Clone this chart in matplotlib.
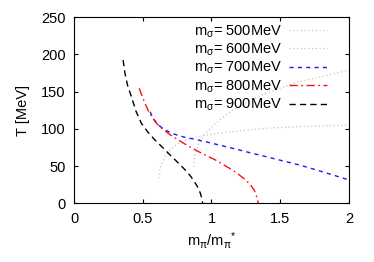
import matplotlib
matplotlib.use("Agg")
import matplotlib.pyplot as plt
import numpy as np

plt.rcParams['font.family'] = ['Liberation Sans', 'DejaVu Sans']
plt.rcParams['mathtext.fontset'] = 'custom'
plt.rcParams['mathtext.rm'] = 'Liberation Sans'
plt.rcParams['mathtext.it'] = 'Liberation Sans'
plt.rcParams['mathtext.default'] = 'regular'

# m_sigma = 500 MeV (grey dotted, saturating ~105)
x500 = [0.614, 0.63, 0.663, 0.70, 0.76, 0.83, 0.907, 1.0, 1.152, 1.3, 1.396, 1.6, 1.8, 2.0]
y500 = [33.6, 50.0, 62.7, 72.0, 80.6, 86.0, 89.6, 93.0, 96.3, 99.0, 100.8, 102.8, 104.0, 105.0]
# m_sigma = 600 MeV (grey dotted, rising to ~179)
x600 = [0.870, 0.88, 0.907, 0.95, 1.005, 1.08, 1.152, 1.27, 1.396, 1.52, 1.64, 1.82, 2.0]
y600 = [49.0, 65.0, 80.6, 93.0, 103.0, 115.0, 125.0, 137.0, 148.0, 156.0, 163.5, 171.0, 179.0]
# m_sigma = 700 MeV (blue dashed)
x700 = [0.553, 0.58, 0.614, 0.66, 0.711, 0.80, 0.907, 1.03, 1.152, 1.27, 1.396, 1.52, 1.64, 1.76, 1.885, 2.0]
y700 = [123.0, 113.0, 105.0, 99.0, 94.0, 89.0, 85.0, 79.5, 74.0, 68.5, 62.7, 57.0, 51.5, 45.0, 38.0, 31.4]
# m_sigma = 800 MeV (red dash-dot)
x800 = [0.474, 0.495, 0.516, 0.54, 0.565, 0.60, 0.638, 0.70, 0.760, 0.83, 0.907, 0.97, 1.029, 1.09, 1.152, 1.20, 1.249, 1.285, 1.310, 1.325, 1.335, 1.340]
y800 = [154.6, 144.0, 134.4, 124.5, 116.5, 107.5, 100.8, 92.0, 85.0, 77.0, 69.4, 63.5, 58.2, 51.5, 44.8, 38.5, 31.4, 24.5, 17.9, 11.0, 4.5, 0.0]
# m_sigma = 900 MeV (black dashed)
x900 = [0.357, 0.37, 0.39, 0.418, 0.45, 0.49, 0.54, 0.589, 0.65, 0.711, 0.76, 0.809, 0.85, 0.883, 0.905, 0.919, 0.930, 0.936]
y900 = [192.6, 175.0, 158.0, 143.0, 124.0, 107.5, 95.0, 85.0, 74.0, 62.7, 54.0, 44.8, 36.0, 26.9, 20.0, 13.4, 6.5, 0.0]

labels = [r'm$_{σ}$= 500MeV', r'm$_{σ}$= 600MeV', r'm$_{σ}$= 700MeV',
          r'm$_{σ}$= 800MeV', r'm$_{σ}$= 900MeV']
xticks = [0, 0.5, 1, 1.5, 2]
xticklabels = ['0', '0.5', '1', '1.5', '2']
yticks = [0, 50, 100, 150, 200, 250]

fs = 10.5

fig = plt.figure(figsize=(3.74, 2.62), dpi=100)
ax = fig.add_axes([0.198, 0.224, 0.735, 0.71])

grey = '#c4c4c4'
ax.plot(x500, y500, color=grey, lw=0.9, linestyle=(0, (1, 2)), label=labels[0])
ax.plot(x600, y600, color=grey, lw=0.9, linestyle=(0, (1, 2)), label=labels[1])
ax.plot(x700, y700, color='#1a1aff', lw=1.0, linestyle=(0, (3, 3)), label=labels[2])
ax.plot(x800, y800, color='#ff1010', lw=1.0, linestyle=(0, (6, 2.5, 1.2, 2.5)), label=labels[3])
ax.plot(x900, y900, color='black', lw=1.0, linestyle=(0, (4.5, 3)), label=labels[4])

ax.set_xlim(0, 2)
ax.set_ylim(0, 250)
ax.set_xticks(xticks)
ax.set_xticklabels(xticklabels)
ax.set_yticks(yticks)
ax.tick_params(direction='in', top=True, right=True, labelsize=fs, length=3, width=0.8, pad=6)
for s in ax.spines.values():
    s.set_linewidth(0.8)

ax.set_xlabel(r'm$_{π}$/m$_{π}$$^{*}$', fontsize=fs, labelpad=3)
ax.set_ylabel('T [MeV]', fontsize=fs, labelpad=8)

leg = ax.legend(loc='upper right', frameon=False, markerfirst=False, fontsize=fs,
                handlelength=2.6, handletextpad=0.45, labelspacing=0.14,
                borderaxespad=0.0, bbox_to_anchor=(0.94, 1.0))

fig.savefig('out.png', dpi=100)
